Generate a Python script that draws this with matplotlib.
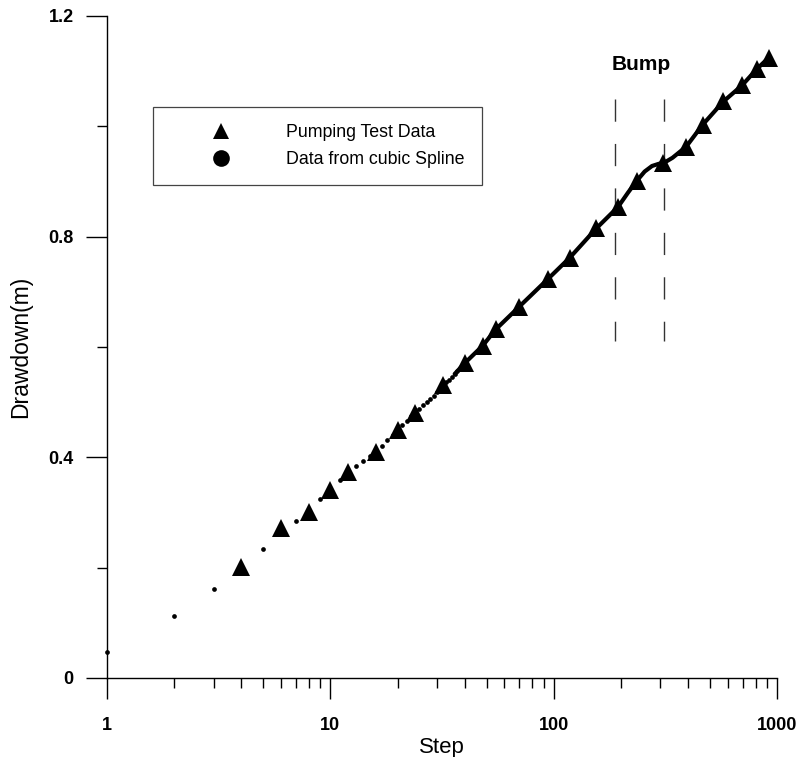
import numpy as np
import matplotlib
matplotlib.use('Agg')
from matplotlib import pyplot as plt
from matplotlib.lines import Line2D
from matplotlib.ticker import FixedLocator, FuncFormatter, LogLocator

plt.rcParams['font.family'] = ['Liberation Sans', 'DejaVu Sans']

# pumping test observations
test_steps = [4, 6, 8, 10, 12, 16, 20, 24, 32, 40, 48, 55, 70, 94, 118,
              155, 194, 235, 309, 391, 464, 574, 695, 811, 914]
test_dd = [0.201, 0.271, 0.301, 0.340, 0.373, 0.410, 0.450, 0.481, 0.531,
           0.571, 0.602, 0.632, 0.673, 0.723, 0.762, 0.815, 0.854, 0.901,
           0.933, 0.963, 1.003, 1.045, 1.074, 1.104, 1.124]

# cubic spline values at every step (early steps drawn as separate dots)
spline_steps = list(range(1, 40))
spline_dd = [0.047, 0.113, 0.162, 0.201, 0.234, 0.262, 0.285, 0.301, 0.324,
             0.340, 0.358, 0.373, 0.384, 0.393, 0.402, 0.410, 0.421, 0.431,
             0.441, 0.450, 0.458, 0.466, 0.474, 0.481, 0.488, 0.494, 0.500,
             0.506, 0.512, 0.518, 0.525, 0.531, 0.536, 0.541, 0.546, 0.551,
             0.556, 0.561, 0.566]

# spline beyond step ~36 where the dots merge into a continuous curve
curve_steps = [36, 40, 48, 55, 70, 94, 118, 155, 194, 215, 235, 255, 275,
               295, 309, 340, 391, 464, 574, 695, 811, 914]
curve_dd = [0.551, 0.571, 0.602, 0.632, 0.673, 0.723, 0.762, 0.815, 0.854,
            0.880, 0.901, 0.918, 0.928, 0.932, 0.933, 0.943, 0.963, 1.003,
            1.045, 1.074, 1.104, 1.124]

bump_steps = [188, 311]
bump_range = (0.61, 1.05)


fig = plt.figure(figsize=(7.98, 7.57), dpi=100)
ax = fig.add_axes([0.134, 0.1044, 0.840, 0.8745])

ax.plot(curve_steps, curve_dd, color='black', lw=3.0, solid_capstyle='round',
        zorder=2)
ax.plot(spline_steps, spline_dd, 'o', color='black', ms=3.4, mew=0,
        clip_on=False, zorder=3)
ax.plot(test_steps, test_dd, '^', color='black', ms=13, mew=0, zorder=4)

for s in bump_steps:
    ax.plot([s, s], [bump_range[1], bump_range[0]], color='#333333', lw=1.0,
            dashes=(16, 16))
ax.text(245, 1.112, 'Bump', ha='center', va='center', fontsize=15,
        fontweight='bold')

ax.set_xscale('log')
ax.set_xlim(1, 1000)
ax.set_ylim(0, 1.2)

ax.xaxis.set_major_locator(FixedLocator([1, 10, 100, 1000]))
ax.xaxis.set_minor_locator(LogLocator(base=10, subs=np.arange(2, 10)))
ax.xaxis.set_major_formatter(FuncFormatter(lambda v, p: '%g' % v))
ax.xaxis.set_minor_formatter(FuncFormatter(lambda v, p: ''))
ax.yaxis.set_major_locator(FixedLocator([0, 0.4, 0.8, 1.2]))
ax.yaxis.set_minor_locator(FixedLocator([0.2, 0.6, 1.0]))
ax.yaxis.set_major_formatter(FuncFormatter(lambda v, p: '%g' % v))

ax.tick_params(which='major', direction='out', length=15, width=1.0,
               labelsize=13, pad=9)
ax.tick_params(axis='x', which='major', pad=13)
ax.tick_params(which='minor', direction='out', length=7.5, width=1.0)
for lab in ax.get_xticklabels() + ax.get_yticklabels():
    lab.set_fontweight('bold')

for side in ['top', 'right']:
    ax.spines[side].set_visible(False)
for side in ['left', 'bottom']:
    ax.spines[side].set_linewidth(1.0)

ax.set_xlabel('Step', fontsize=16, labelpad=2)
ax.set_ylabel('Drawdown(m)', fontsize=16.5, labelpad=12)

handles = [Line2D([], [], ls='none', marker='^', color='black', ms=12, mew=0),
           Line2D([], [], ls='none', marker='o', color='black', ms=12, mew=0)]
leg = ax.legend(handles, ['Pumping Test Data', 'Data from cubic Spline'],
                loc='upper left', bbox_to_anchor=(0.0687, 0.862),
                borderaxespad=0, fontsize=12.8, handlelength=5.8,
                handletextpad=0.75, labelspacing=0.55, borderpad=0.95,
                fancybox=False, framealpha=1)
leg.get_frame().set_edgecolor('#444444')
leg.get_frame().set_linewidth(0.9)

fig.savefig('out.png', dpi=100)
